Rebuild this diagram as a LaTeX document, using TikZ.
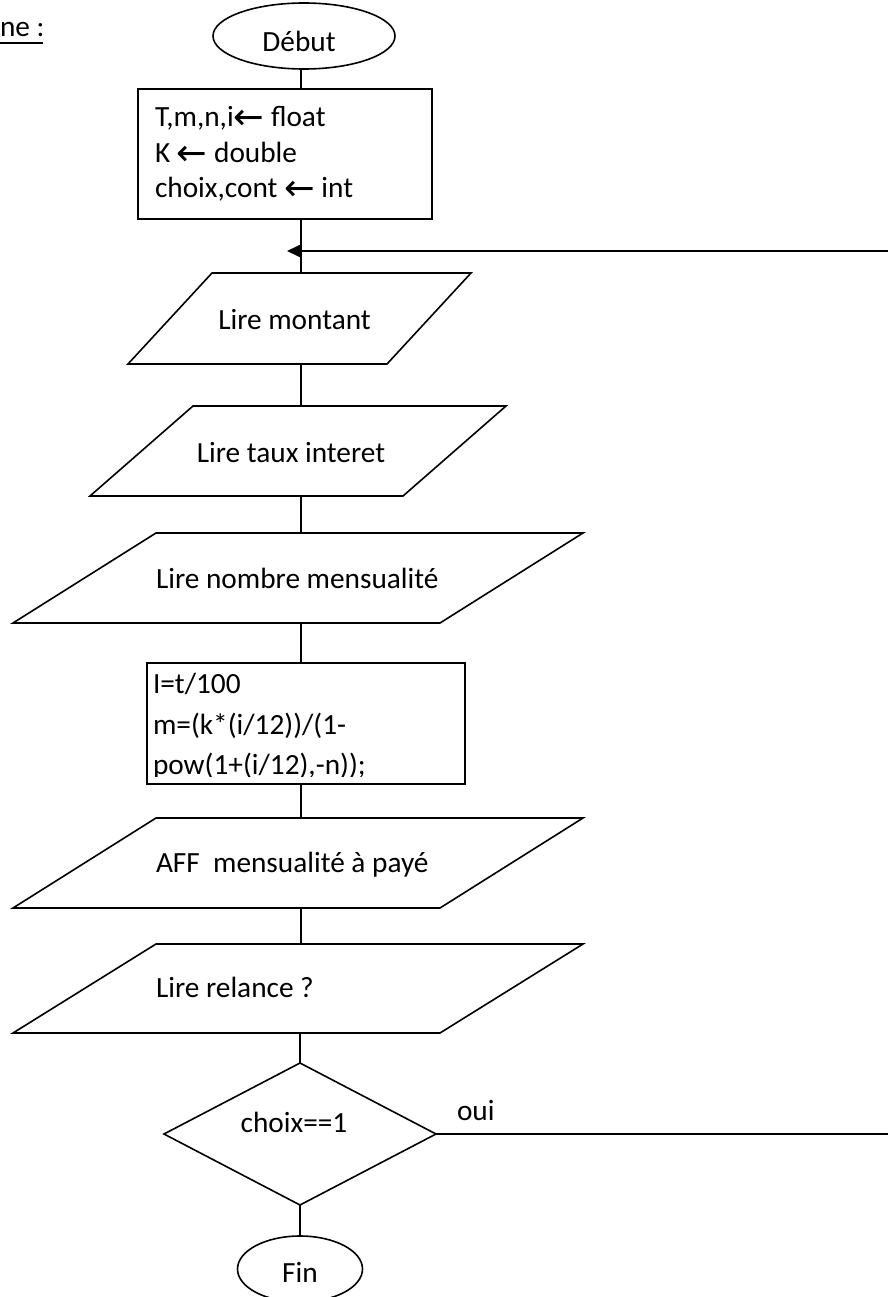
\documentclass[tikz,border=0pt]{standalone}
\usepackage{fontspec}
\setmainfont{Carlito}
\newfontfamily\arrowfont[Scale=1.25]{DejaVu Sans}
\usetikzlibrary{shapes.geometric,arrows.meta,calc}
\newcommand\larr{\raisebox{-3pt}{\arrowfont ←}}
% draws a parallelogram inside the bounding rectangle of node #1, slanted by #2
\newcommand\iopath[2]{\draw[line] ($(#1.north west)+(#2,0)$) -- (#1.north east) -- ($(#1.south east)+(-#2,0)$) -- (#1.south west) -- cycle;}

\begin{document}
\begin{tikzpicture}[x=1pt,y=-1pt,
  line/.style={draw=black, line width=1.6pt},
  txt/.style={inner sep=0pt, outer sep=0pt, anchor=base west, font=\fontsize{29.3}{36}\selectfont},
  ctxt/.style={inner sep=0pt, outer sep=0pt, anchor=base, font=\fontsize{29.3}{36}\selectfont},
  term/.style={ellipse, line, inner sep=0pt, outer sep=0pt, minimum height=66pt},
  procbox/.style={rectangle, line, inner sep=0pt, outer sep=0pt},
  iobox/.style={rectangle, draw=none, inner sep=0pt, outer sep=0pt},
  decision/.style={diamond, line, inner sep=0pt, outer sep=0pt, minimum width=272pt, minimum height=142pt},
]
\useasboundingbox[fill=white] (0,0) rectangle (887,1297);

% heading
\node[txt] (title) at (0,37) {ne :};
\draw[line width=1.6pt] ($(title.base west)+(0,6)$) -- ($(title.base east)+(-1,6)$);

% spine of the flow
\coordinate (spine) at (301,0);
\coordinate (merge) at (301,251);
\coordinate (farright) at (896,0);

% start
\node[term, minimum width=182pt] (start) at (304,36) {};
\node[ctxt] (tstart) at (299,52) {Début};

% declarations
\node[procbox, minimum width=294pt, minimum height=130pt] (decl) at (285,154) {};
\node[txt] (decl1) at (155,127) {T,m,n,i\larr{} float};
\node[txt] (decl2) at (155,163) {K \larr{} double};
\node[txt] (decl3) at (155,198) {choix,cont \larr{} int};

% inputs
\node[iobox, minimum width=343pt, minimum height=91pt] (rd1) at (299.5,318.5) {};
\iopath{rd1}{84}
\node[ctxt] (trd1) at (294.5,329) {Lire montant};

\node[iobox, minimum width=416pt, minimum height=90pt] (rd2) at (298,451) {};
\iopath{rd2}{103}
\node[ctxt] (trd2) at (291,462) {Lire taux interet};

\node[iobox, minimum width=570pt, minimum height=90pt] (rd3) at (298,578) {};
\iopath{rd3}{143}
\node[txt] (trd3) at (156,588) {Lire nombre mensualité};

% computation
\node[procbox, minimum width=318pt, minimum height=121pt] (calc) at (306,723.5) {};
\node[txt] (calc1) at (153,693) {I=t/100};
\node[txt] (calc2) at (153,734) {m=(k*(i/12))/(1-};
\begin{scope}
  \clip (147,663) rectangle (465,776);
  \node[txt] (calc3) at (153,774) {pow(1+(i/12),-n));};
\end{scope}

% outputs
\node[iobox, minimum width=570pt, minimum height=90pt] (out) at (298,863) {};
\iopath{out}{143}
\node[txt] (tout) at (156,872) {AFF\ \ mensualité à payé};

\node[iobox, minimum width=570pt, minimum height=89pt] (rd4) at (298,988.5) {};
\iopath{rd4}{143}
\node[txt] (trd4) at (156,997) {Lire relance ?};

% test
\node[decision] (cond) at (300,1134) {};
\node[ctxt] (tcond) at (294,1132) {choix==1};
\node[txt] (oui) at (457,1120) {oui};

% end
\node[term, minimum width=125pt] (stop) at (300,1269) {};
\node[ctxt] (tstop) at (300,1282) {Fin};

% connectors
\draw[line] (start.south -| spine) -- (decl.north -| spine);
\draw[line] (decl.south -| spine) -- (rd1.north -| spine);
\draw[line] (rd1.south -| spine) -- (rd2.north -| spine);
\draw[line] (rd2.south -| spine) -- (rd3.north -| spine);
\draw[line] (rd3.south -| spine) -- (calc.north -| spine);
\draw[line] (calc.south -| spine) -- (out.north -| spine);
\draw[line] (out.south -| spine) -- (rd4.north -| spine);
\draw[line] (rd4.south -| cond.north) -- (cond.north);
\draw[line] (cond.south) -- (stop.north);

% loop back when choix==1
\draw[line, -{Triangle[length=14pt,width=13pt]}] (cond.east) -- (cond.east -| farright) -- (farright |- merge) -- ($(merge)+(-14,0)$);
\end{tikzpicture}
\end{document}
